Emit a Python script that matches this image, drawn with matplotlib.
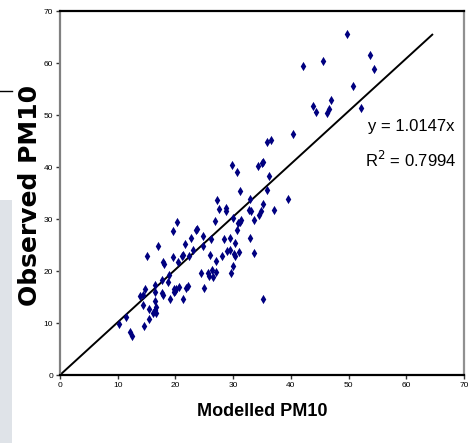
import matplotlib
matplotlib.use("Agg")
import matplotlib.pyplot as plt
import numpy as np

# modelled vs observed PM10
modelled = [10.3, 11.4, 12.2, 12.5, 13.8, 14.4, 14.4, 14.8, 14.6, 15.0,
            15.4, 15.5, 16.1, 16.4, 16.5, 16.5, 16.5, 16.6, 16.6, 17.0,
            17.6, 17.7, 17.9, 17.9, 18.1, 18.7, 18.9, 19.0, 19.5, 19.6,
            19.7, 19.8, 19.9, 20.1, 20.3, 20.4, 20.7, 21.1, 21.3, 21.3,
            21.6, 21.8, 22.2, 22.3, 22.7, 23.1, 23.5, 23.7, 24.4, 24.7,
            24.8, 25.0, 25.6, 25.8, 26.0, 26.2, 26.4, 26.5, 26.8, 27.0,
            27.1, 27.2, 27.5, 28.1, 28.4, 28.7, 28.8, 28.9, 29.5, 29.5,
            29.6, 29.9, 29.8, 30.0, 30.2, 30.3, 30.4, 30.6, 30.7, 30.8,
            31.1, 31.2, 31.2, 31.4, 32.9, 32.7, 33.1, 33.0, 33.6, 33.7,
            34.4, 34.3, 34.8, 35.0, 35.1, 35.2, 35.2, 35.8, 35.8, 36.2,
            36.6, 37.0, 39.5, 40.4, 42.1, 43.9, 44.3, 45.6, 46.3, 46.6,
            47.0, 49.7, 50.7, 52.2, 53.7, 54.4]
observed = [9.8, 11.2, 8.3, 7.5, 15.1, 15.3, 13.5, 16.5, 9.4, 22.8,
            10.8, 12.7, 11.9, 14.3, 16.0, 17.3, 12.5, 12.0, 13.0, 24.9,
            18.3, 15.7, 15.4, 21.7, 21.3, 17.9, 19.2, 14.6, 27.6, 22.7,
            16.0, 16.6, 16.2, 16.5, 29.4, 21.7, 16.9, 22.8, 14.6, 23.0,
            25.2, 16.7, 17.1, 22.9, 26.4, 24.0, 27.8, 28.1, 19.7, 24.8,
            26.8, 16.8, 19.6, 19.0, 23.1, 26.1, 20.2, 18.9, 29.6, 22.0,
            19.9, 33.7, 31.9, 22.8, 26.1, 32.2, 31.5, 23.9, 26.4, 24.0,
            19.6, 30.2, 40.3, 21.0, 23.3, 22.8, 25.4, 39.0, 27.9, 29.2,
            23.6, 35.3, 29.5, 29.8, 33.8, 31.7, 31.5, 26.4, 29.9, 23.5,
            30.8, 40.1, 31.5, 40.7, 41.0, 14.6, 32.8, 35.6, 44.8, 38.2,
            45.2, 31.8, 33.8, 46.3, 59.5, 51.8, 50.5, 60.4, 50.3, 51.1,
            52.9, 65.5, 55.6, 51.4, 61.5, 58.9]

slope = 1.0147
r2 = 0.7994
trend_x = [0.3, 64.5]

fig = plt.figure(figsize=(4.71, 4.43), dpi=100)
ax = fig.add_axes([60 / 471, 1 - 375 / 443, 404 / 471, 364 / 443])

ax.scatter(modelled, observed, marker="d", s=22, color="#000080", linewidths=0, zorder=3)
tx = np.array(trend_x)
ax.plot(tx, slope * tx, color="black", lw=1.4, zorder=2)

ax.set_xlim(0, 70)
ax.set_ylim(0, 70)
ax.set_xticks(range(0, 71, 10))
ax.set_yticks(range(0, 71, 10))
ax.tick_params(axis="both", length=3, width=1, color="#333333", pad=2, labelsize=6)
for lab in ax.get_xticklabels() + ax.get_yticklabels():
    lab.set_family("Liberation Sans")

ax.spines["left"].set_color("#808080")
ax.spines["right"].set_color("#909090")
ax.spines["top"].set_color("black")
ax.spines["bottom"].set_color("black")
for s in ax.spines.values():
    s.set_linewidth(1.6)

fig.text(411 / 471, 1 - 126 / 443, f"y = {slope}x", family="Liberation Sans",
         fontsize=12, ha="center", va="center")
fig.text(411 / 471, 1 - 160 / 443, f"R$^2$ = {r2}", family="Liberation Sans",
         fontsize=12, ha="center", va="center")

fig.text(262 / 471, 1 - 412 / 443, "Modelled PM10", family="Liberation Sans",
         fontweight="bold", fontsize=13, ha="center", va="center")
fig.text(30 / 471, 1 - 195 / 443, "Observed PM10", family="DejaVu Sans", fontweight="bold",
         fontsize=18, rotation=90, ha="center", va="center")

# bits of the slide behind the chart
fig.patches.append(plt.Rectangle((0, 0), 12 / 471, 1 - 200 / 443, transform=fig.transFigure,
                                 facecolor="#dfe3e8", edgecolor="none"))
fig.lines.append(plt.Line2D([0, 12 / 471], [1 - 91 / 443] * 2, transform=fig.transFigure,
                            color="black", lw=1))

fig.savefig("out.png", dpi=100)
